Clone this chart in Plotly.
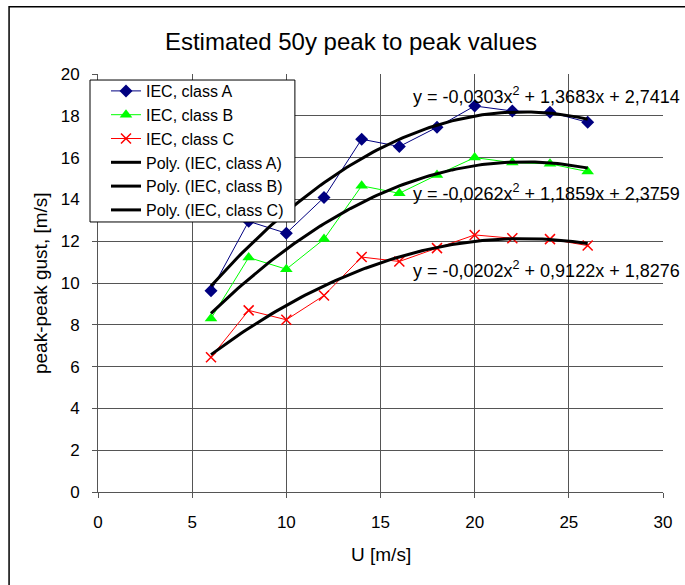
import numpy as np
import plotly.graph_objects as go

# ---- data ----
u_ms = [6, 8, 10, 12, 14, 16, 18, 20, 22, 24, 26]
class_a = [9.63, 12.95, 12.38, 14.09, 16.88, 16.53, 17.45, 18.47, 18.23, 18.17, 17.69]
class_b = [8.30, 11.22, 10.66, 12.10, 14.65, 14.29, 15.17, 16.00, 15.76, 15.70, 15.33]
class_c = [6.45, 8.69, 8.24, 9.40, 11.24, 11.03, 11.67, 12.30, 12.14, 12.10, 11.79]

# trendline coefficients shown on the chart (a2, a1, a0)
poly_a = [-0.0303, 1.3683, 2.7414]
poly_b = [-0.0262, 1.1859, 2.3759]
poly_c = [-0.0202, 0.9122, 1.8276]

eq_a = "y = -0,0303x<sup>2</sup> + 1,3683x + 2,7414"
eq_b = "y = -0,0262x<sup>2</sup> + 1,1859x + 2,3759"
eq_c = "y = -0,0202x<sup>2</sup> + 0,9122x + 1,8276"

x_ticks = [0, 5, 10, 15, 20, 25, 30]
y_ticks = [0, 2, 4, 6, 8, 10, 12, 14, 16, 18, 20]

FONT = "Liberation Sans, Arial, sans-serif"

fig = go.Figure()

fig.add_trace(go.Scatter(
    x=u_ms, y=class_a, name="IEC, class A", mode="lines+markers",
    line=dict(color="#000080", width=1),
    marker=dict(symbol="diamond", size=10, color="#000080")))
fig.add_trace(go.Scatter(
    x=u_ms, y=class_b, name="IEC, class B", mode="lines+markers",
    line=dict(color="#00FF00", width=1),
    marker=dict(symbol="triangle-up", size=11, color="#00FF00")))
fig.add_trace(go.Scatter(
    x=u_ms, y=class_c, name="IEC, class C", mode="lines+markers",
    line=dict(color="#FF0000", width=1),
    marker=dict(symbol="x-thin", size=10, color="#FF0000",
                line=dict(color="#FF0000", width=1.5))))

xs = np.linspace(min(u_ms), max(u_ms), 101)
for coeffs, label in [(poly_a, "Poly. (IEC, class A)"),
                      (poly_b, "Poly. (IEC, class B)"),
                      (poly_c, "Poly. (IEC, class C)")]:
    fig.add_trace(go.Scatter(
        x=xs, y=np.polyval(coeffs, xs), name=label, mode="lines",
        line=dict(color="black", width=3)))

for txt, yv in [(eq_a, 18.95), (eq_b, 14.35), (eq_c, 10.65)]:
    fig.add_annotation(x=16.6, y=yv, xref="x", yref="y", text=txt,
                       showarrow=False, xanchor="left", yanchor="middle",
                       font=dict(family=FONT, size=18, color="black"))

# axis titles
fig.add_annotation(x=-0.1026, y=0.5, xref="paper", yref="paper",
                   text="peak-peak gust, [m/s]", textangle=-90, showarrow=False,
                   xanchor="center", yanchor="middle",
                   font=dict(family=FONT, size=19, color="black"))
fig.add_annotation(x=0.5, y=-0.1507, xref="paper", yref="paper",
                   text="U [m/s]", showarrow=False,
                   xanchor="center", yanchor="middle",
                   font=dict(family=FONT, size=19, color="black"))

# outer chart frame
fig.add_shape(type="rect", xref="paper", yref="paper",
              x0=-0.1574, x1=1.2, y0=-0.4, y1=1.161,
              line=dict(color="black", width=1.5), fillcolor="rgba(0,0,0,0)",
              layer="below")

# legend box (white, black border) drawn over the plot
fig.add_shape(type="rect", xref="paper", yref="paper",
              x0=-0.01415, x1=0.3485, y0=0.646, y1=0.9856,
              line=dict(color="black", width=1), fillcolor="white",
              layer="above")

axis_common = dict(showgrid=True, gridcolor="#555555", gridwidth=1,
                   showline=True, linecolor="#555555", linewidth=1,
                   ticks="outside", ticklen=5, tickcolor="#555555",
                   zeroline=False, tickfont=dict(family=FONT, size=17, color="black"))

fig.update_layout(
    width=685, height=585,
    margin=dict(l=98, r=22, t=74, b=93, pad=0),
    paper_bgcolor="white", plot_bgcolor="white",
    title=dict(text="Estimated 50y peak to peak values",
               x=351 / 685, xref="container", xanchor="center",
               y=1 - 42 / 585, yref="container", yanchor="middle",
               font=dict(family=FONT, size=24, color="black")),
    xaxis=dict(range=[0, 30], tickvals=x_ticks, ticklabelstandoff=10, **axis_common),
    yaxis=dict(range=[0, 20], tickvals=y_ticks, ticklabelstandoff=9, **axis_common),
    legend=dict(x=(106 - 98) / 565.3, y=1.0, xanchor="left", yanchor="top",
                bgcolor="rgba(0,0,0,0)", borderwidth=0,
                font=dict(family=FONT, size=16, color="black"),
                tracegroupgap=0),
    showlegend=True,
)

fig.write_html("out.html", config={"displayModeBar": False},
               post_script="document.body.style.margin='0';")
